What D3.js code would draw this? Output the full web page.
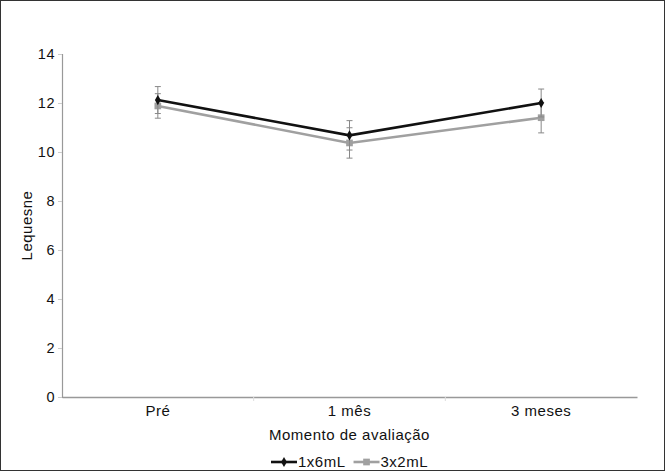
<!DOCTYPE html>
<html>
<head>
<meta charset="utf-8">
<title>Lequesne</title>
<script src="https://cdn.jsdelivr.net/npm/d3@7"></script>
<style>
  body { margin: 0; background: #fff; }
  text { font-family: "Liberation Sans", Arial, sans-serif; letter-spacing: 0.5px; }
</style>
</head>
<body>
<script>
	// data
	var categories = ["Pré", "1 mês", "3 meses"];
	var seriesNames = ["1x6mL", "3x2mL"];
	var black = [12.12, 10.68, 12.0];
	var blackErr = [0.55, 0.6, 0.57];
	var gray = [11.88, 10.37, 11.4];
	var grayErr = [0.5, 0.62, 0.62];
	var yTicks = [0, 2, 4, 6, 8, 10, 12, 14];

	var width = 665, height = 471;
	var margin = {top: 54, right: 28, bottom: 74, left: 62};

	var svg = d3.select("body").append("svg")
		.attr("width", width)
		.attr("height", height);

	// outer frame
	svg.append("rect")
		.attr("x", 0.5).attr("y", 0.5)
		.attr("width", width - 1).attr("height", height - 1)
		.attr("fill", "white").attr("stroke", "#333").attr("stroke-width", 1);

	var x = d3.scaleBand()
		.domain(categories)
		.range([margin.left, width - margin.right]);

	var y = d3.scaleLinear()
		.domain([0, 14])
		.range([height - margin.bottom, margin.top]);

	// y axis
	var yAxis = svg.append("g")
		.attr("transform", "translate(" + margin.left + ",0)")
		.call(d3.axisLeft(y).tickValues(yTicks).tickSize(4).tickPadding(3));
	yAxis.select(".domain").attr("stroke", "#999").attr("stroke-width", 1.2);
	yAxis.selectAll(".tick line").attr("stroke", "#ccc");
	yAxis.selectAll("text").attr("font-size", 14.5).attr("fill", "#111");

	// x axis
	var xAxis = svg.append("g")
		.attr("transform", "translate(0," + (height - margin.bottom) + ")")
		.call(d3.axisBottom(x).tickSize(0).tickPadding(8));
	xAxis.select(".domain").attr("stroke", "#999").attr("stroke-width", 1.5);
	xAxis.selectAll("text").attr("font-size", 15).attr("fill", "#111");

	// small ticks at category boundaries
	svg.selectAll(".xsep")
		.data(categories.slice(1))
		.enter().append("line")
		.attr("class", "xsep")
		.attr("x1", function(d) { return x(d); })
		.attr("x2", function(d) { return x(d); })
		.attr("y1", height - margin.bottom)
		.attr("y2", height - margin.bottom + 4)
		.attr("stroke", "#ddd");

	// axis titles
	svg.append("text")
		.attr("transform", "translate(32," + ((margin.top + height - margin.bottom) / 2) + ") rotate(-90)")
		.attr("text-anchor", "middle")
		.attr("font-size", 15)
		.attr("fill", "#111")
		.text("Lequesne");

	svg.append("text")
		.attr("x", (margin.left + width - margin.right) / 2)
		.attr("y", 440)
		.attr("text-anchor", "middle")
		.attr("font-size", 15)
		.attr("fill", "#111")
		.text("Momento de avaliação");

	var cx = function(d, i) { return x(categories[i]) + x.bandwidth() / 2; };

	function drawSeries(vals, errs, color, marker) {
		var line = d3.line()
			.x(function(d, i) { return cx(d, i); })
			.y(function(d) { return y(d); });

		svg.append("path")
			.datum(vals)
			.attr("d", line)
			.attr("fill", "none")
			.attr("stroke", color)
			.attr("stroke-width", 2.6);

		var eb = svg.append("g");
		vals.forEach(function(v, i) {
			var px = cx(v, i);
			eb.append("line")
				.attr("x1", px).attr("x2", px)
				.attr("y1", y(v + errs[i])).attr("y2", y(v - errs[i]))
				.attr("stroke", "#888").attr("stroke-width", 1);
			[v + errs[i], v - errs[i]].forEach(function(e) {
				eb.append("line")
					.attr("x1", px - 3).attr("x2", px + 3)
					.attr("y1", y(e)).attr("y2", y(e))
					.attr("stroke", "#888").attr("stroke-width", 1);
			});
		});

		svg.selectAll(null)
			.data(vals)
			.enter().append("path")
			.attr("transform", function(d, i) { return "translate(" + cx(d, i) + "," + y(d) + ")"; })
			.attr("d", d3.symbol().type(marker).size(marker === d3.symbolSquare ? 45 : 30))
			.attr("fill", color);
	}

	drawSeries(gray, grayErr, "#a0a0a0", d3.symbolSquare);
	drawSeries(black, blackErr, "#111", d3.symbolDiamond);

	// legend
	var legend = svg.append("g").attr("transform", "translate(271,462)");
	var legendItems = [
		{name: seriesNames[0], color: "#111", marker: d3.symbolDiamond, size: 30},
		{name: seriesNames[1], color: "#a0a0a0", marker: d3.symbolSquare, size: 45}
	];
	var lx = 0;
	legendItems.forEach(function(d) {
		var g = legend.append("g").attr("transform", "translate(" + lx + ",0)");
		g.append("line")
			.attr("x1", 0).attr("x2", 26).attr("y1", 0).attr("y2", 0)
			.attr("stroke", d.color).attr("stroke-width", 2.6);
		g.append("path")
			.attr("transform", "translate(13,0)")
			.attr("d", d3.symbol().type(d.marker).size(d.size))
			.attr("fill", d.color);
		var t = g.append("text")
			.attr("x", 27).attr("y", 0).attr("dy", "0.35em")
			.attr("font-size", 15).attr("fill", "#111")
			.text(d.name);
		lx += 27 + t.node().getComputedTextLength() + 8;
	});
</script>
</body>
</html>
